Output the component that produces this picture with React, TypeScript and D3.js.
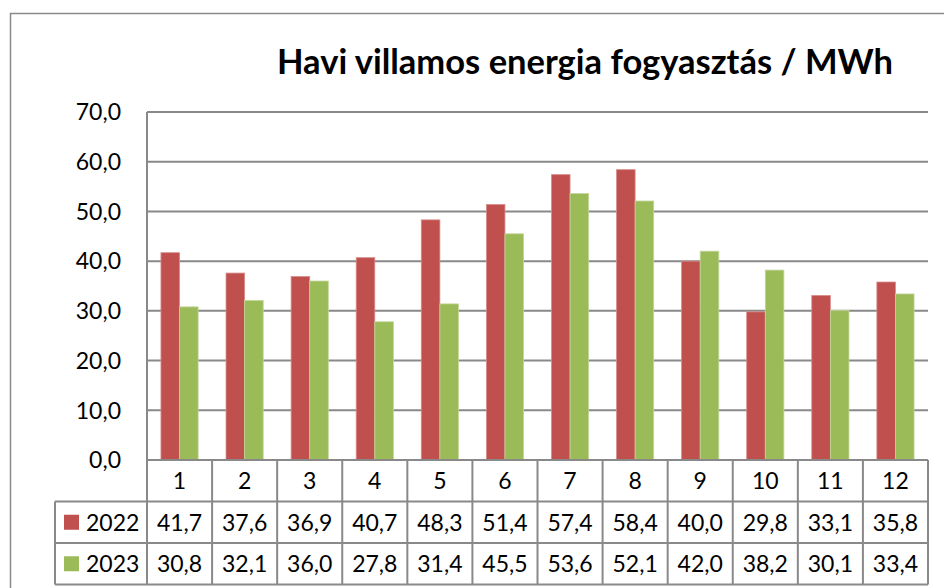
import * as d3 from "d3";

const months = ["1", "2", "3", "4", "5", "6", "7", "8", "9", "10", "11", "12"];
const values2022 = [41.7, 37.6, 36.9, 40.7, 48.3, 51.4, 57.4, 58.4, 40.0, 29.8, 33.1, 35.8];
const values2023 = [30.8, 32.1, 36.0, 27.8, 31.4, 45.5, 53.6, 52.1, 42.0, 38.2, 30.1, 33.4];
const seriesNames = ["2022", "2023"];
const yTicks = [0, 10, 20, 30, 40, 50, 60, 70];

const colors = ["#C0504D", "#9BBB59"];
const gridColor = "#898989";
const font = "Lato, 'Open Sans', sans-serif";

export default function App() {
  const width = 944;
  const height = 588;
  const left = 147;
  const right = 928;
  const top = 112;
  const bottom = 460;
  const rowH = 41.5;
  const legendLeft = 55;

  const fmt = (v: number) => d3.format(".1f")(v).replace(".", ",");

  const x = d3.scaleBand().domain(months).range([left, right]);
  const y = d3.scaleLinear().domain([0, 70]).range([bottom, top]);
  // excel-style gap width 150%
  const barW = x.bandwidth() / 3.5;

  const series = [values2022, values2023];

  return (
    <div style={{ position: "fixed", left: 0, top: 0 }}>
      <svg width={width} height={height} style={{ display: "block", background: "#fff" }}>
        {/* outer chart border */}
        <path d={`M10.5,${height} V13.5 H${width}`} fill="none" stroke="#8a8a8a" strokeWidth={1.5} />

        <text
          x={585}
          y={74}
          textAnchor="middle"
          fontFamily={font}
          fontWeight="bold"
          fontSize={34.5}
          fill="#000"
        >
          Havi villamos energia fogyasztás / MWh
        </text>

        {/* gridlines + y labels */}
        {yTicks.map((t) => (
          <g key={t}>
            <line x1={left} x2={right} y1={y(t)} y2={y(t)} stroke={gridColor} strokeWidth={2} />
            <text
              x={121}
              y={y(t)}
              dy="0.36em"
              textAnchor="end"
              fontFamily={font}
              fontSize={23}
              fill="#000"
            >
              {fmt(t)}
            </text>
          </g>
        ))}
        <line x1={left} x2={left} y1={top} y2={bottom} stroke={gridColor} strokeWidth={2} />

        {/* bars */}
        {series.map((vals, si) =>
          vals.map((v, i) => {
            const cx = x(months[i])! + x.bandwidth() / 2;
            const bx = cx - barW + si * barW;
            return (
              <rect
                key={si + "-" + i}
                x={bx}
                y={y(v)}
                width={barW}
                height={bottom - y(v)}
                fill={colors[si]}
                stroke={si === 0 ? "#d88c8a" : "#c3d69b"}
                strokeWidth={0.8}
              />
            );
          })
        )}

        {/* data table */}
        <g stroke={gridColor} strokeWidth={2} fill="none">
          <line x1={left} x2={right} y1={bottom} y2={bottom} />
          <line x1={legendLeft} x2={right} y1={bottom + rowH} y2={bottom + rowH} />
          <line x1={legendLeft} x2={right} y1={bottom + rowH * 2} y2={bottom + rowH * 2} />
          <line x1={legendLeft} x2={right} y1={bottom + rowH * 3} y2={bottom + rowH * 3} />
          <line x1={legendLeft} x2={legendLeft} y1={bottom + rowH} y2={bottom + rowH * 3} />
          <line x1={left} x2={left} y1={bottom} y2={bottom + rowH * 3} />
          {months.map((m) => (
            <line key={m} x1={x(m)! + x.bandwidth()} x2={x(m)! + x.bandwidth()} y1={bottom} y2={bottom + rowH * 3} />
          ))}
        </g>
        {months.map((m) => (
          <text
            key={m}
            x={x(m)! + x.bandwidth() / 2}
            y={bottom + rowH / 2}
            dy="0.36em"
            textAnchor="middle"
            fontFamily={font}
            fontSize={23}
          >
            {m}
          </text>
        ))}
        {series.map((vals, si) => {
          const cy = bottom + rowH * (si + 1) + rowH / 2;
          return (
            <g key={si}>
              <rect x={64} y={cy - 7.5} width={15} height={15} fill={colors[si]} />
              <text x={86} y={cy} dy="0.36em" fontFamily={font} fontSize={23}>
                {seriesNames[si]}
              </text>
              {vals.map((v, i) => (
                <text
                  key={i}
                  x={x(months[i])! + x.bandwidth() / 2}
                  y={cy}
                  dy="0.36em"
                  textAnchor="middle"
                  fontFamily={font}
                  fontSize={23}
                >
                  {fmt(v)}
                </text>
              ))}
            </g>
          );
        })}
      </svg>
    </div>
  );
}
